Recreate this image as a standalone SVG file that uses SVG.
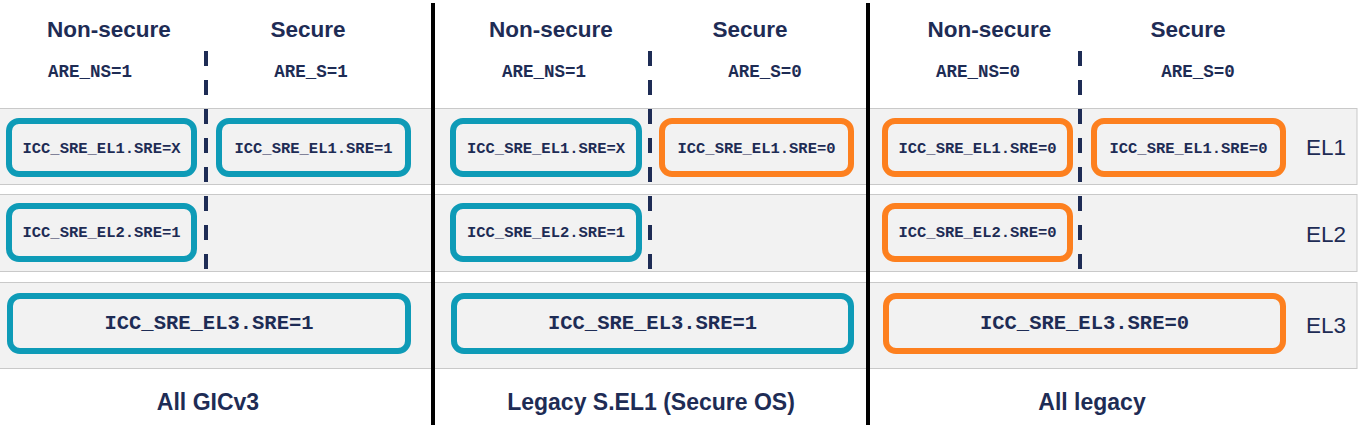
<svg xmlns="http://www.w3.org/2000/svg" width="1361" height="437" viewBox="0 0 1361 437">
<style>
.band{fill:#f2f2f2;stroke:#c9c9c9;stroke-width:1}
.teal{fill:#f2f2f2;stroke:#0e9bb7;stroke-width:6}
.orange{fill:#f2f2f2;stroke:#fd801f;stroke-width:6}
.head{font-family:"Liberation Sans",Arial,sans-serif;font-weight:bold;font-size:22.5px;fill:#1e2c55;text-anchor:middle}
.foot{font-family:"Liberation Sans",Arial,sans-serif;font-weight:bold;font-size:23px;fill:#1e2c55;text-anchor:middle}
.el{font-family:"Liberation Sans",Arial,sans-serif;font-size:22.5px;fill:#1e2c55;text-anchor:middle}
.are{font-family:"Liberation Mono","Courier New",monospace;font-weight:bold;font-size:17.5px;fill:#1e2c55;text-anchor:middle}
.reg{font-family:"Liberation Mono","Courier New",monospace;font-weight:bold;font-size:15.5px;fill:#1e2c55;text-anchor:middle}
.reg3{font-family:"Liberation Mono","Courier New",monospace;font-weight:bold;font-size:20.5px;fill:#1e2c55;text-anchor:middle}
.dash{stroke:#1e2c55;stroke-width:4;stroke-dasharray:15 14;fill:none}
.sep{stroke:#000;stroke-width:4}
</style>
<rect width="1361" height="437" fill="#ffffff"/>
<g id="bands">
<rect class="band" x="-1" y="108.5" width="1358" height="76"/>
<rect class="band" x="-1" y="194.5" width="1358" height="77"/>
<rect class="band" x="-1" y="282.5" width="1358" height="86"/>
</g>
<g id="level-labels">
<text class="el" x="1326" y="155">EL1</text>
<text class="el" x="1326" y="242">EL2</text>
<text class="el" x="1326" y="333">EL3</text>
</g>
<g id="connectors">
<line class="dash" x1="206" y1="51" x2="206" y2="270"/>
<line class="dash" x1="650" y1="51" x2="650" y2="270"/>
<line class="dash" x1="1080" y1="51" x2="1080" y2="270"/>
<line class="sep" x1="433" y1="3" x2="433" y2="425"/>
<line class="sep" x1="868" y1="3" x2="868" y2="425"/>
</g>
<g id="panel1">
<text class="head" x="109" y="37">Non-secure</text>
<text class="head" x="308" y="37">Secure</text>
<text class="are" x="90" y="77">ARE_NS=1</text>
<text class="are" x="311" y="77">ARE_S=1</text>
<g id="p1-el1-ns"><rect class="teal" x="9" y="121" width="185" height="53" rx="10"/><text class="reg" x="101.5" y="152.5">ICC_SRE_EL1.SRE=X</text></g>
<g id="p1-el1-s"><rect class="teal" x="219" y="121" width="189" height="53" rx="10"/><text class="reg" x="313.5" y="152.5">ICC_SRE_EL1.SRE=1</text></g>
<g id="p1-el2-ns"><rect class="teal" x="9" y="206" width="185" height="53" rx="10"/><text class="reg" x="101.5" y="237">ICC_SRE_EL2.SRE=1</text></g>
<g id="p1-el3"><rect class="teal" x="10" y="296" width="398" height="55" rx="10"/><text class="reg3" x="209" y="329">ICC_SRE_EL3.SRE=1</text></g>
<text class="foot" x="208" y="410">All GICv3</text>
</g>
<g id="panel2">
<text class="head" x="551" y="37">Non-secure</text>
<text class="head" x="750" y="37">Secure</text>
<text class="are" x="544" y="77">ARE_NS=1</text>
<text class="are" x="765" y="77">ARE_S=0</text>
<g id="p2-el1-ns"><rect class="teal" x="453" y="121" width="186" height="53" rx="10"/><text class="reg" x="546" y="152.5">ICC_SRE_EL1.SRE=X</text></g>
<g id="p2-el1-s"><rect class="orange" x="662" y="121" width="189" height="53" rx="10"/><text class="reg" x="756.5" y="152.5">ICC_SRE_EL1.SRE=0</text></g>
<g id="p2-el2-ns"><rect class="teal" x="453" y="206" width="186" height="53" rx="10"/><text class="reg" x="546" y="237">ICC_SRE_EL2.SRE=1</text></g>
<g id="p2-el3"><rect class="teal" x="454" y="296" width="397" height="55" rx="10"/><text class="reg3" x="652.5" y="329">ICC_SRE_EL3.SRE=1</text></g>
<text class="foot" x="651" y="410">Legacy S.EL1 (Secure OS)</text>
</g>
<g id="panel3">
<text class="head" x="989.5" y="37">Non-secure</text>
<text class="head" x="1188" y="37">Secure</text>
<text class="are" x="978" y="77">ARE_NS=0</text>
<text class="are" x="1198" y="77">ARE_S=0</text>
<g id="p3-el1-ns"><rect class="orange" x="885" y="121" width="185" height="53" rx="10"/><text class="reg" x="977.5" y="152.5">ICC_SRE_EL1.SRE=0</text></g>
<g id="p3-el1-s"><rect class="orange" x="1094" y="121" width="189" height="53" rx="10"/><text class="reg" x="1188.5" y="152.5">ICC_SRE_EL1.SRE=0</text></g>
<g id="p3-el2-ns"><rect class="orange" x="885" y="206" width="185" height="53" rx="10"/><text class="reg" x="977.5" y="237">ICC_SRE_EL2.SRE=0</text></g>
<g id="p3-el3"><rect class="orange" x="886" y="296" width="397" height="55" rx="10"/><text class="reg3" x="1084.5" y="329">ICC_SRE_EL3.SRE=0</text></g>
<text class="foot" x="1092" y="410">All legacy</text>
</g>
</svg>
